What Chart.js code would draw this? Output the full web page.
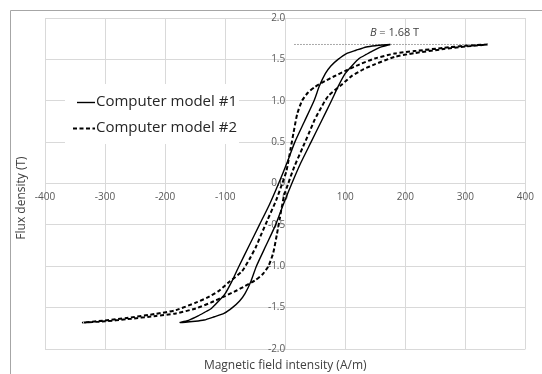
<!DOCTYPE html>
<html>
<head>
<meta charset="utf-8">
<script src="https://cdn.jsdelivr.net/npm/chart.js@4.4.1/dist/chart.umd.min.js"></script>
<style>
body { margin: 0; background: #fff; }
</style>
</head>
<body>
<canvas id="loopChart" width="542" height="374"></canvas>
<script>
// model #1 loop: top tip -> descending branch -> bottom tip -> ascending branch
var model1H = [175, 150, 135, 118, 102, 88, 76, 67, 57, 48, 32, 16, 3, -11, -26, -43, -60, -77, -88, -100, -112, -123, -135, -145, -160, -175,
    -150, -135, -118, -102, -88, -76, -67, -57, -48, -32, -16, -3, 11, 26, 43, 60, 77, 88, 100, 112, 123, 135, 145, 160, 175];
var model1B = [1.68, 1.665, 1.65, 1.61, 1.57, 1.5, 1.42, 1.33, 1.18, 1.0, 0.75, 0.5, 0.25, 0, -0.25, -0.5, -0.75, -1.0, -1.17, -1.33, -1.43, -1.51, -1.56, -1.6, -1.65, -1.68,
    -1.665, -1.65, -1.61, -1.57, -1.5, -1.42, -1.33, -1.18, -1.0, -0.75, -0.5, -0.25, 0, 0.25, 0.5, 0.75, 1.0, 1.17, 1.33, 1.43, 1.51, 1.56, 1.6, 1.65, 1.68];

// model #2 loop, same order
var model2H = [337, 300, 264, 215, 182, 149, 124, 100, 80, 67, 50, 38, 28, 20, 14, 9, 2, -5, -15, -30, -39, -49, -60, -72, -95, -111, -130, -149, -182, -215, -264, -300, -337,
    -300, -264, -215, -182, -149, -124, -100, -80, -67, -50, -38, -28, -20, -14, -9, -2, 5, 15, 30, 39, 49, 60, 72, 95, 111, 130, 149, 182, 215, 264, 300, 337];
var model2B = [1.68, 1.665, 1.64, 1.6, 1.57, 1.51, 1.44, 1.36, 1.29, 1.24, 1.17, 1.1, 1.0, 0.84, 0.62, 0.42, 0.15, 0, -0.2, -0.45, -0.6, -0.77, -0.92, -1.06, -1.2, -1.3, -1.38, -1.44, -1.53, -1.575, -1.625, -1.655, -1.68,
    -1.665, -1.64, -1.6, -1.57, -1.51, -1.44, -1.36, -1.29, -1.24, -1.17, -1.1, -1.0, -0.84, -0.62, -0.42, -0.15, 0, 0.2, 0.45, 0.6, 0.77, 0.92, 1.06, 1.2, 1.3, 1.38, 1.44, 1.53, 1.575, 1.625, 1.655, 1.68];

var peakLineH = [15, 335];
var peakLineB = [1.68, 1.68];

var legendLabels = ["Computer model #1", "Computer model #2"];
var xTitle = "Magnetic field intensity (A/m)";
var yTitle = "Flux density (T)";
var peakNote = ["B", " = 1.68 T"];
var peakNoteAt = [141, 1.82];

function toPoints(hs, bs) {
    return hs.map(function (h, i) { return { x: h, y: bs[i] }; });
}

var gridGray = "#d9d9d9";
var tickFont = { family: "Open Sans", size: 10 };

var decorations = {
    id: "decorations",
    beforeDraw: function (chart) {
        var ctx = chart.ctx;
        ctx.save();
        ctx.fillStyle = "#fff";
        ctx.fillRect(0, 0, chart.width, chart.height);
        ctx.strokeStyle = "#a6a6a6";
        ctx.lineWidth = 1;
        ctx.beginPath();
        ctx.moveTo(10.5, chart.height);
        ctx.lineTo(10.5, 10.5);
        ctx.lineTo(chart.width, 10.5);
        ctx.stroke();
        ctx.restore();
    },
    afterDatasetsDraw: function (chart) {
        var ctx = chart.ctx;
        ctx.save();
        // legend box
        ctx.fillStyle = "#fff";
        ctx.fillRect(65, 84, 174, 60);
        ctx.strokeStyle = "#000";
        ctx.lineWidth = 1.4;
        ctx.beginPath();
        ctx.moveTo(77, 102.5);
        ctx.lineTo(95, 102.5);
        ctx.stroke();
        ctx.lineWidth = 2;
        ctx.setLineDash([4, 2.5]);
        ctx.beginPath();
        ctx.moveTo(73, 128.5);
        ctx.lineTo(95, 128.5);
        ctx.stroke();
        ctx.setLineDash([]);
        ctx.fillStyle = "#262626";
        ctx.font = "15px 'Open Sans'";
        ctx.textBaseline = "middle";
        ctx.textAlign = "left";
        ctx.fillText(legendLabels[0], 96, 102);
        ctx.fillText(legendLabels[1], 96, 128);

        // axis titles
        ctx.fillStyle = "#404040";
        ctx.font = "12px 'Open Sans'";
        ctx.textAlign = "center";
        ctx.fillText(xTitle, (chart.chartArea.left + chart.chartArea.right) / 2, 366);
        ctx.save();
        ctx.translate(22, 198);
        ctx.rotate(-Math.PI / 2);
        ctx.fillText(yTitle, 0, 0);
        ctx.restore();

        // peak note
        var xs = chart.scales.x, ys = chart.scales.y;
        var px = xs.getPixelForValue(peakNoteAt[0]);
        var py = ys.getPixelForValue(peakNoteAt[1]);
        ctx.textAlign = "left";
        ctx.font = "italic 11px 'Open Sans'";
        ctx.fillText(peakNote[0], px, py);
        var w = ctx.measureText(peakNote[0]).width;
        ctx.font = "11px 'Open Sans'";
        ctx.fillText(peakNote[1], px + w, py);
        ctx.restore();
    }
};

var ctx = document.getElementById("loopChart").getContext("2d");
var loopChart = new Chart(ctx, {
    type: "scatter",
    data: {
        datasets: [
            {
                label: legendLabels[0],
                data: toPoints(model1H, model1B),
                showLine: true,
                borderColor: "#000",
                borderWidth: 1.4,
                pointRadius: 0,
                tension: 0.2
            },
            {
                label: legendLabels[1],
                data: toPoints(model2H, model2B),
                showLine: true,
                borderColor: "#000",
                borderWidth: 2,
                borderDash: [4, 2.5],
                pointRadius: 0,
                tension: 0.2
            },
            {
                label: "peak",
                data: toPoints(peakLineH, peakLineB),
                showLine: true,
                borderColor: "#8c8c8c",
                borderWidth: 1,
                borderDash: [1.5, 1.5],
                pointRadius: 0
            }
        ]
    },
    options: {
        responsive: false,
        animation: false,
        layout: { padding: { left: 45, right: 9, top: 18, bottom: 25 } },
        plugins: {
            legend: { display: false },
            tooltip: { enabled: false }
        },
        scales: {
            x: {
                type: "linear",
                min: -400,
                max: 400,
                position: { y: 0 },
                ticks: {
                    stepSize: 100,
                    color: "#595959",
                    font: tickFont,
                    padding: 8,
                    maxRotation: 0,
                    autoSkip: false
                },
                grid: { color: gridGray, drawTicks: false },
                border: { color: gridGray }
            },
            y: {
                type: "linear",
                min: -2,
                max: 2,
                position: { x: 0 },
                ticks: {
                    stepSize: 0.5,
                    color: "#595959",
                    font: tickFont,
                    padding: 5,
                    callback: function (v) { return v.toFixed(1); }
                },
                grid: { color: gridGray, drawTicks: false },
                border: { color: gridGray }
            }
        }
    },
    plugins: [decorations]
});
</script>
</body>
</html>
